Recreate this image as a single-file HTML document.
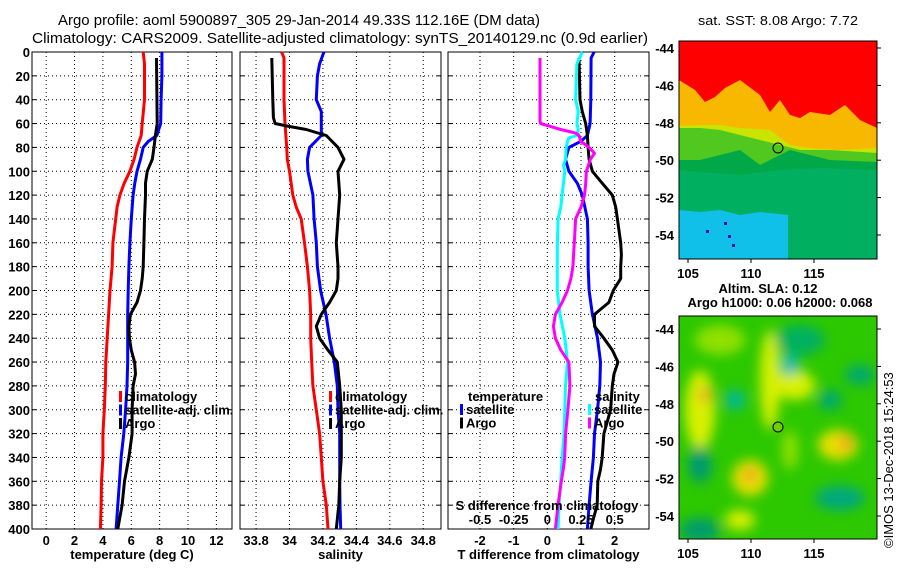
<!DOCTYPE html>
<html><head><meta charset="utf-8"><style>
body{margin:0;background:#fff;}
svg{display:block;font-family:"Liberation Sans",sans-serif;}
.t{font-size:13px;font-weight:bold;}
</style></head><body>
<svg id="c" width="900" height="580" viewBox="0 0 900 580">
<defs>
<filter id="bl" x="-50%" y="-50%" width="200%" height="200%"><feGaussianBlur stdDeviation="6"/></filter>
<clipPath id="m1"><rect x="679" y="41" width="198" height="218"/></clipPath>
<clipPath id="m2"><rect x="679" y="316" width="198" height="223"/></clipPath>
</defs>
<text x="299" y="25" font-size="15" text-anchor="middle" textLength="482" lengthAdjust="spacingAndGlyphs">Argo profile: aoml 5900897_305 29-Jan-2014 49.33S 112.16E (DM data)</text>
<text x="340" y="43" font-size="15" text-anchor="middle" textLength="616" lengthAdjust="spacingAndGlyphs">Climatology: CARS2009. Satellite-adjusted climatology: synTS_20140129.nc (0.9d earlier)</text>
<text x="778" y="25" font-size="13" text-anchor="middle" textLength="160" lengthAdjust="spacingAndGlyphs">sat. SST: 8.08 Argo: 7.72</text>
<text x="768" y="293" class="t" text-anchor="middle">Altim. SLA: 0.12</text>
<text x="780" y="307" class="t" text-anchor="middle">Argo h1000: 0.06 h2000: 0.068</text>
<text transform="translate(893,548) rotate(-90)" font-size="13">©IMOS 13-Dec-2018 15:24:53</text>

<g id="sstmap" clip-path="url(#m1)">
<rect x="679" y="41" width="198" height="218" fill="#00b060"/>
<polygon points="679,41 877,41 877,170 820,168 780,170 740,175 700,172 679,170" fill="#00a848"/>
<polygon points="679,41 877,41 877,162 830,160 790,150 770,160 760,165 740,150 720,155 700,160 679,160" fill="#50c820"/>
<polygon points="679,41 877,41 877,153 830,150 800,150 780,145 760,140 740,135 720,130 700,128 679,128" fill="#c8e400"/>
<polygon points="679,41 877,41 877,148 840,150 810,148 790,145 770,130 740,128 720,125 700,125 679,126" fill="#f8b800"/>
<polygon points="679,41 877,41 877,128 860,120 845,105 830,115 810,112 800,118 790,115 780,100 770,112 760,95 740,80 725,88 715,97 705,102 695,90 679,80" fill="#ff0000"/>
<polygon points="679,210 700,212 720,210 740,215 760,212 788,215 788,259 679,259" fill="#10c0e8"/>
<rect x="724" y="222" width="3" height="3" fill="#0010c0"/><rect x="728" y="235" width="3" height="3" fill="#0010c0"/><rect x="732" y="244" width="3" height="3" fill="#0010c0"/><rect x="706" y="230" width="3" height="3" fill="#0010c0"/>
<circle cx="778" cy="148" r="5" fill="none" stroke="#000" stroke-width="1"/>
</g>
<rect x="679" y="41" width="198" height="218" fill="none" stroke="#000"/>

<g clip-path="url(#m2)">
<rect x="679" y="316" width="198" height="223" fill="#2cc800"/>
<g filter="url(#bl)">
<ellipse cx="700" cy="410" rx="15" ry="40" fill="#d8f000"/>
<ellipse cx="705" cy="395" rx="6" ry="8" fill="#f0a020"/>
<ellipse cx="770" cy="380" rx="10" ry="50" fill="#d8f000"/>
<ellipse cx="795" cy="385" rx="20" ry="15" fill="#d8f000"/>
<ellipse cx="838" cy="445" rx="20" ry="15" fill="#e8e000"/>
<ellipse cx="846" cy="443" rx="6" ry="6" fill="#f08020"/>
<ellipse cx="750" cy="478" rx="18" ry="18" fill="#e8e000"/>
<ellipse cx="750" cy="475" rx="6" ry="6" fill="#f08020"/>
<ellipse cx="735" cy="400" rx="10" ry="10" fill="#00b8a0"/>
<ellipse cx="790" cy="365" rx="8" ry="10" fill="#00b8c8"/>
<ellipse cx="700" cy="530" rx="20" ry="12" fill="#009c70"/>
<ellipse cx="860" cy="375" rx="15" ry="10" fill="#00a870"/>
<ellipse cx="840" cy="498" rx="25" ry="12" fill="#00a880"/>
<ellipse cx="720" cy="340" rx="25" ry="15" fill="#90e000"/>
<ellipse cx="800" cy="340" rx="25" ry="15" fill="#00b060"/>
<ellipse cx="790" cy="450" rx="8" ry="20" fill="#90e000"/>
<ellipse cx="700" cy="465" rx="12" ry="18" fill="#009c70"/>
<ellipse cx="830" cy="400" rx="12" ry="10" fill="#00a870"/>
<ellipse cx="740" cy="520" rx="15" ry="10" fill="#d8f000"/>
</g>
<circle cx="778" cy="427" r="5" fill="#6cd000" stroke="#000" stroke-width="1"/>
</g>
<rect x="679" y="316" width="198" height="223" fill="none" stroke="#000"/>
<g id="plots"></g>
</svg>
<script>
// temperature (deg C)
const tClimD=[0,10,40,60,70,80,90,100,110,120,130,140,160,180,200,220,240,260,280,300,320,340,360,380,400];
const tClim=[6.84,6.93,6.93,6.77,6.7,6.4,6.2,5.9,5.5,5.2,5.0,4.9,4.7,4.65,4.5,4.4,4.3,4.2,4.17,4.1,4.0,4.0,3.9,3.87,3.82];
const tSatD=[0,20,40,60,70,75,80,90,100,110,120,140,160,180,200,220,240,260,280,300,320,340,360,380,400];
const tSat=[8.16,8.16,8.1,8.07,7.8,7.2,6.84,6.65,6.4,6.25,6.13,6.0,5.9,5.83,5.78,5.75,5.75,5.75,5.7,5.6,5.47,5.28,5.17,5.05,4.93];
const tArgoD=[5,60,70,80,90,100,110,120,140,160,180,190,200,210,220,230,240,250,260,270,280,300,320,340,360,380,390,400];
const tArgo=[7.78,7.83,7.7,7.6,7.48,7.12,7.0,7.0,6.93,6.89,6.84,6.77,6.65,6.4,5.94,5.83,5.87,6.0,6.23,6.3,6.13,6.06,6.06,5.83,5.52,5.35,5.2,5.05];
// salinity
const sClimD=[0,5,40,60,80,90,100,120,130,140,160,180,200,220,240,260,280,300,320,340,360,380,400];
const sClim=[33.953,33.967,33.967,33.973,33.983,33.987,34.0,34.02,34.04,34.07,34.09,34.107,34.12,34.127,34.127,34.133,34.14,34.16,34.18,34.19,34.2,34.22,34.23];
const sSatD=[0,10,20,40,50,60,70,80,90,100,120,140,160,180,200,220,240,260,280,300,320,340,360,380,400];
const sSat=[34.206,34.18,34.167,34.16,34.19,34.19,34.19,34.12,34.107,34.11,34.14,34.147,34.16,34.167,34.186,34.218,34.24,34.268,34.286,34.29,34.3,34.3,34.3,34.302,34.306];
const sArgoD=[5,40,55,60,62,65,70,80,90,100,120,140,160,180,190,200,210,220,230,240,250,260,280,300,340,360,380,400];
const sArgo=[33.894,33.9,33.904,33.914,33.98,34.1,34.22,34.29,34.326,34.29,34.3,34.29,34.28,34.29,34.29,34.28,34.24,34.19,34.16,34.18,34.23,34.286,34.3,34.31,34.31,34.3,34.295,34.28];
// differences
const dTSatD=[0,5,40,60,70,75,80,90,100,110,120,140,160,180,200,220,240,260,280,300,320,340,360,380,400];
const dTSat=[1.39,1.3,1.29,1.27,1.19,0.99,0.64,0.54,0.64,0.89,1.04,1.19,1.21,1.21,1.24,1.34,1.49,1.58,1.56,1.49,1.4,1.37,1.3,1.24,1.19];
const dTArgoD=[5,40,50,60,70,80,90,100,110,120,130,140,160,170,180,190,200,210,220,230,240,250,260,270,280,300,320,340,350,360,380,390,400];
const dTArgo=[0.94,0.97,1.04,1.14,1.19,1.21,1.24,1.34,1.63,1.93,2.03,2.08,2.18,2.2,2.18,2.18,1.96,1.83,1.4,1.4,1.68,1.93,2.1,1.98,1.93,1.88,1.68,1.63,1.58,1.5,1.48,1.38,1.29];
const dSSatD=[0,10,40,50,60,65,70,72,75,80,90,95,100,120,130,140,160,180,200,220,240,250,260,280,300,320,340,360,380,400];
const dSSat=[0.26,0.22,0.21,0.23,0.22,0.23,0.22,0.16,0.15,0.14,0.135,0.12,0.13,0.11,0.1,0.08,0.075,0.074,0.074,0.094,0.13,0.14,0.15,0.135,0.13,0.124,0.11,0.099,0.087,0.08];
const dSArgoD=[5,40,58,60,65,68,70,75,80,85,90,100,110,120,130,140,160,180,190,200,210,220,230,240,250,255,260,280,300,320,340,350,360,380,400];
const dSArgo=[-0.054,-0.054,-0.054,-0.05,0.1,0.21,0.235,0.248,0.31,0.35,0.32,0.29,0.285,0.277,0.25,0.21,0.2,0.19,0.175,0.15,0.11,0.06,0.045,0.06,0.1,0.13,0.16,0.168,0.153,0.136,0.129,0.119,0.104,0.079,0.06];
const yTicks=[0,20,40,60,80,100,120,140,160,180,200,220,240,260,280,300,320,340,360,380,400];
const tTicks=[0,2,4,6,8,10,12];
const sTicks=[33.8,34,34.2,34.4,34.6,34.8];
const sTickLabels=['33.8','34','34.2','34.4','34.6','34.8'];
const dTTicks=[-2,-1,0,1,2];
const dSTicks=[-0.5,-0.25,0,0.25,0.5];
const dSTickLabels=['-0.5','-0.25','0','0.25','0.5'];
const lonTicks=[105,110,115];
const latTicks=[-44,-46,-48,-50,-52,-54];

const NS='http://www.w3.org/2000/svg';
const plots=document.getElementById('plots');
function mk(tag,at,parent){const e=document.createElementNS(NS,tag);for(const k in at)e.setAttribute(k,at[k]);(parent||plots).appendChild(e);return e;}
const Y0=52,Y1=529;
const yS=d=>Y0+(Y1-Y0)*d/400;
function lin(d0,d1,r0,r1){return v=>r0+(v-d0)*(r1-r0)/(d1-d0);}
function panel(name,x0,x1,xs,ticks,labels,title){
  const g=mk('g',{});
  
  
  yTicks.forEach(d=>{const l=mk('line',{x1:x0,x2:x1,y1:yS(d),y2:yS(d),stroke:'#000','stroke-dasharray':'1,3','stroke-width':1},g);
    
    mk('line',{x1:x0,x2:x0+4,y1:yS(d),y2:yS(d),stroke:'#000'},g);mk('line',{x1:x1-4,x2:x1,y1:yS(d),y2:yS(d),stroke:'#000'},g);});
  ticks.forEach((t,i)=>{const x=xs(t);const l=mk('line',{x1:x,x2:x,y1:Y0,y2:Y1,stroke:'#000','stroke-dasharray':'1,3'},g);
    
    const tx=mk('text',{x:x,y:545,'text-anchor':'middle',class:'t'},g);tx.textContent=labels[i];
    });
  mk('rect',{x:x0,y:Y0,width:x1-x0,height:Y1-Y0,fill:'none',stroke:'#000'},g);
  const tt=mk('text',{x:(x0+x1)/2,y:559,'text-anchor':'middle',class:'t'},g);tt.textContent=title;
  
  return g;
}
function series(name,xs,vals,ds,col,w){
  const pts=vals.map((v,i)=>xs(v).toFixed(1)+','+yS(ds[i]).toFixed(1)).join(' ');
  const p=mk('polyline',{points:pts,fill:'none',stroke:col,'stroke-width':w||3,'stroke-linejoin':'round'});
  
  
}
function legend(x,y,items){
  items.forEach((it,i)=>{mk('rect',{x:x,y:y+i*13.5-10,width:3,height:11,fill:it[1]});
    const t=mk('text',{x:x+6,y:y+i*13.5,class:'t'});t.textContent=it[0];
    });
}
yTicks.forEach(d=>{const t=mk('text',{x:30,y:yS(d)+5,'text-anchor':'end',class:'t'});t.textContent=d;
  });
// panel 1
const xT=lin(-1,13.1,32,232);
panel('temperature',32,232,xT,tTicks,tTicks.map(String),'temperature (deg C)');
series('temperature-climatology-line',xT,tClim,tClimD,'#ff0000');
series('temperature-satellite-line',xT,tSat,tSatD,'#0000ff');
series('temperature-argo-line',xT,tArgo,tArgoD,'#000');
legend(119,401,[['climatology','#ff0000'],['satellite-adj. clim.','#0000ff'],['Argo','#000']]);
// panel 2
const xS=lin(33.704,34.906,240,441);
panel('salinity',240,441,xS,sTicks,sTickLabels,'salinity');
series('salinity-climatology-line',xS,sClim,sClimD,'#ff0000');
series('salinity-satellite-line',xS,sSat,sSatD,'#0000ff');
series('salinity-argo-line',xS,sArgo,sArgoD,'#000');
legend(329,401,[['climatology','#ff0000'],['satellite-adj. clim.','#0000ff'],['Argo','#000']]);
// panel 3
const xD=lin(-2.95,3.02,448,649);
const xDS=v=>xD(v*4);
panel('difference',448,649,xD,dTTicks,dTTicks.map(String),'T difference from climatology');
series('tdiff-satellite-line',xD,dTSat,dTSatD,'#0000ff');
series('tdiff-argo-line',xD,dTArgo,dTArgoD,'#000');
series('sdiff-satellite-line',xDS,dSSat,dSSatD,'#00ffff');
series('sdiff-argo-line',xDS,dSArgo,dSArgoD,'#ff00ff');
{const t=mk('text',{x:468,y:401,class:'t'});t.textContent='temperature';}
{const t=mk('text',{x:595,y:401,class:'t'});t.textContent='salinity';}
legend(460,414,[['satellite','#0000ff'],['Argo','#000']]);
legend(588,414,[['satellite','#00ffff'],['Argo','#ff00ff']]);
{const t=mk('text',{x:547,y:510,'text-anchor':'middle',class:'t'});t.textContent='S difference from climatology';}
dSTicks.forEach((v,i)=>{const t=mk('text',{x:xDS(v),y:524,'text-anchor':'middle',class:'t'});t.textContent=dSTickLabels[i];
  });
// map axes
const lonX=lin(105,115,688,814);
function mapAxes(ybot,latY,lonLabelY){
  lonTicks.forEach(l=>{const t=mk('text',{x:lonX(l),y:lonLabelY,'text-anchor':'middle',class:'t'});t.textContent=l;
    
    mk('line',{x1:lonX(l),x2:lonX(l),y1:ybot,y2:ybot+4,stroke:'#000'});});
  latTicks.forEach(l=>{const y=latY(l);const t=mk('text',{x:674,y:y+5,'text-anchor':'end',class:'t'});t.textContent=l;
    
    mk('line',{x1:877,x2:881,y1:y,y2:y,stroke:'#000'});});
}
mapAxes(259,lin(-44,-54,48,235),278);
mapAxes(539,lin(-44,-54,329,516),558);
</script>
</body></html>
